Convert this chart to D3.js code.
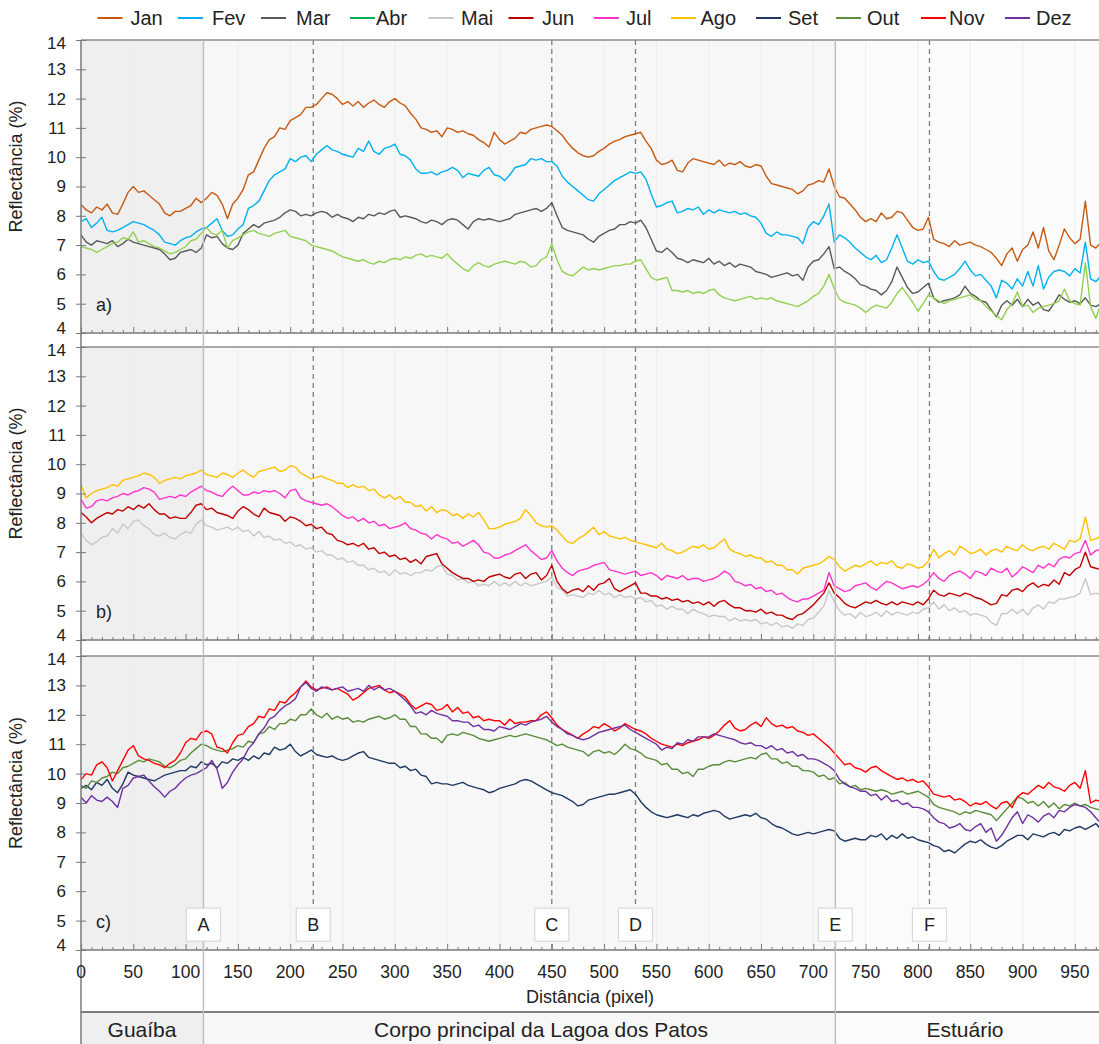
<!DOCTYPE html>
<html><head><meta charset="utf-8">
<script src="https://cdn.jsdelivr.net/npm/d3@7"></script>
<style>body{margin:0;background:#fff;} svg{display:block;font-family:Arial,"Liberation Sans",sans-serif;}</style>
</head><body><svg id="chart" width="1099" height="1044"></svg>
<script>
// ---------- DATA ----------
const monthLabels = ["Jan","Fev","Mar","Abr","Mai","Jun","Jul","Ago","Set","Out","Nov","Dez"];
const distStep = 5; // samples every 5 pixels of distance, from 0 to 975

const jan = [8.39,8.2,8.1,8.3,8.2,8.4,8.1,8.05,8.4,8.8,
9.0,8.8,8.85,8.7,8.55,8.4,8.1,8.0,8.15,8.15,
8.25,8.35,8.6,8.45,8.6,8.8,8.7,8.4,7.9,8.4,
8.6,8.9,9.4,9.5,9.9,10.3,10.6,10.7,11.0,10.95,
11.25,11.35,11.45,11.7,11.7,11.8,12.0,12.2,12.15,12.0,
11.8,11.9,11.75,11.9,11.7,11.85,11.95,11.8,11.7,11.9,
12.0,11.85,11.75,11.5,11.3,11.0,10.95,10.85,10.9,10.7,
11.0,10.95,10.85,10.9,10.8,10.75,10.6,10.5,10.35,10.85,
10.6,10.45,10.55,10.65,10.85,10.8,10.95,11.0,11.05,11.1,
11.05,10.9,10.75,10.5,10.3,10.15,10.05,10.0,10.05,10.2,
10.3,10.45,10.55,10.6,10.7,10.75,10.8,10.85,10.55,10.3,
9.9,9.75,9.8,9.9,9.55,9.5,9.8,9.95,9.9,9.85,
9.8,9.75,9.9,9.7,9.8,9.75,9.85,9.7,9.65,9.75,
9.7,9.35,9.1,9.05,9.0,8.95,8.9,8.75,8.85,9.05,
9.1,9.2,9.15,9.6,9.0,8.65,8.6,8.4,8.2,7.95,
7.8,7.9,7.8,8.1,7.9,7.95,8.15,8.1,7.85,7.6,
7.5,7.55,7.95,7.2,7.1,7.05,6.95,7.15,7.0,7.05,
7.1,7.0,6.95,6.85,6.75,6.55,6.3,6.7,6.9,6.45,
6.85,7.0,7.45,6.9,7.6,6.8,6.5,7.0,7.55,7.25,
7.05,7.2,8.5,7.0,6.9,7.1];

const fev = [7.8,7.9,7.6,7.75,7.95,7.5,7.45,7.5,7.6,7.7,
7.8,7.75,7.7,7.6,7.5,7.35,7.1,7.05,7.0,7.15,
7.25,7.3,7.45,7.55,7.6,7.75,7.9,7.5,7.3,7.35,
7.55,7.7,8.25,8.35,8.5,8.85,9.2,9.4,9.5,9.6,
9.95,9.85,10.0,10.05,9.85,10.1,10.25,10.4,10.25,10.2,
10.1,10.05,10.0,10.3,10.2,10.55,10.2,10.1,10.3,10.35,
10.45,10.1,10.05,9.9,9.6,9.45,9.45,9.5,9.4,9.5,
9.55,9.65,9.55,9.3,9.45,9.4,9.35,9.55,9.65,9.4,
9.35,9.2,9.4,9.65,9.7,9.75,9.95,9.9,9.95,9.85,
9.85,9.7,9.35,9.15,9.0,8.85,8.7,8.55,8.5,8.75,
8.9,9.05,9.2,9.3,9.4,9.5,9.45,9.5,9.25,8.75,
8.3,8.35,8.45,8.5,8.1,8.15,8.25,8.2,8.3,8.05,
8.2,8.1,8.2,8.15,8.1,8.15,8.05,8.1,8.0,7.95,
7.75,7.4,7.3,7.45,7.35,7.35,7.3,7.25,7.05,7.6,
7.8,7.7,8.0,8.4,7.1,7.35,7.25,7.1,6.9,6.75,
6.6,6.5,6.65,6.4,6.5,6.9,7.35,6.9,6.45,6.35,
6.5,6.4,6.45,6.1,5.85,5.8,5.9,6.0,6.2,6.45,
6.15,5.95,6.0,5.8,5.6,5.2,5.8,5.7,5.5,5.85,
5.6,6.1,5.6,6.3,5.5,5.9,6.1,6.15,6.1,5.95,
6.2,6.05,7.1,5.85,5.75,5.95];

const mar = [7.35,7.1,7.0,7.15,7.1,7.05,7.15,6.95,7.05,7.2,
7.1,7.05,7.0,6.95,6.9,6.85,6.7,6.5,6.55,6.75,
6.8,6.85,6.75,6.9,7.35,7.25,7.3,7.05,6.9,6.85,
7.0,7.4,7.55,7.7,7.6,7.75,7.8,7.85,7.95,8.1,
8.2,8.15,8.0,8.05,8.0,8.1,8.15,8.1,7.95,8.05,
7.95,7.9,7.8,7.95,7.9,8.05,8.0,8.1,8.05,8.15,
8.2,7.95,8.0,7.95,7.9,7.8,7.75,7.85,7.8,7.7,
7.85,7.9,7.85,7.7,7.55,7.8,7.9,7.85,7.9,7.85,
7.8,7.85,7.9,8.05,8.1,8.15,8.2,8.25,8.15,8.25,
8.45,8.0,7.6,7.5,7.45,7.4,7.35,7.2,7.1,7.3,
7.4,7.5,7.55,7.7,7.7,7.8,7.75,7.85,7.6,7.2,
6.8,6.75,6.9,6.75,6.55,6.5,6.4,6.5,6.45,6.4,
6.55,6.35,6.45,6.3,6.4,6.25,6.35,6.3,6.25,6.1,
6.05,6.0,5.9,5.95,6.0,6.05,5.95,6.0,5.8,6.25,
6.45,6.5,6.7,6.95,6.2,6.25,6.1,6.0,5.85,5.65,
5.6,5.5,5.45,5.3,5.45,5.75,6.25,5.9,5.55,5.35,
5.4,5.55,5.7,5.2,5.05,5.1,5.15,5.2,5.3,5.6,
5.35,5.25,5.1,5.05,4.8,4.55,4.95,5.1,4.95,5.15,
4.9,5.15,4.95,5.05,4.8,4.75,5.0,5.3,5.15,5.05,
5.1,5.0,5.2,4.95,4.9,5.0];

const abr = [6.95,6.9,6.85,6.75,6.85,6.95,7.05,7.1,7.25,7.2,
7.45,7.1,7.15,7.05,6.95,6.9,6.8,6.7,6.75,6.85,
6.95,7.15,7.2,7.4,7.6,7.4,7.35,7.5,6.9,7.15,
7.25,7.35,7.45,7.5,7.4,7.35,7.3,7.4,7.45,7.5,
7.3,7.25,7.2,7.15,7.0,6.95,6.9,6.85,6.8,6.7,
6.6,6.55,6.5,6.45,6.5,6.4,6.35,6.45,6.4,6.5,
6.55,6.5,6.6,6.55,6.65,6.7,6.6,6.65,6.6,6.55,
6.7,6.5,6.35,6.2,6.1,6.3,6.4,6.3,6.25,6.35,
6.4,6.45,6.4,6.35,6.45,6.4,6.25,6.3,6.5,6.6,
7.05,6.5,6.1,6.0,5.95,6.1,6.25,6.15,6.2,6.15,
6.2,6.25,6.3,6.3,6.35,6.35,6.45,6.5,6.2,5.9,
5.8,5.85,5.9,5.45,5.45,5.4,5.45,5.35,5.4,5.35,
5.45,5.5,5.3,5.2,5.15,5.1,5.15,5.2,5.25,5.15,
5.2,5.15,5.2,5.1,5.05,5.0,4.95,4.9,5.0,5.1,
5.25,5.35,5.6,6.0,5.5,5.15,5.05,5.0,4.95,4.85,
4.7,4.85,4.95,4.9,4.85,5.05,5.35,5.55,5.3,5.05,
4.75,5.0,5.3,5.2,5.1,5.0,5.1,5.15,5.2,5.25,
5.3,5.15,5.1,4.9,4.75,4.6,4.45,4.8,5.0,5.4,
4.9,4.95,4.7,4.85,4.9,4.95,5.0,5.1,5.5,5.1,
5.0,4.95,6.4,4.9,4.5,5.0];

const mai = [7.65,7.4,7.25,7.35,7.5,7.55,7.8,7.65,7.95,7.8,
8.05,8.1,7.9,7.8,7.6,7.55,7.65,7.5,7.45,7.6,
7.7,7.65,7.95,8.1,7.9,7.85,7.75,7.8,7.85,7.75,
7.85,7.7,7.75,7.55,7.7,7.5,7.55,7.4,7.45,7.3,
7.35,7.2,7.25,7.1,7.15,7.0,7.05,6.9,6.9,6.75,
6.8,6.65,6.7,6.55,6.55,6.4,6.45,6.3,6.35,6.2,
6.4,6.25,6.3,6.2,6.3,6.3,6.4,6.35,6.5,6.55,
6.25,6.2,6.05,6.1,5.95,6.0,5.85,5.9,5.85,6.0,
5.85,5.95,5.85,6.0,5.85,5.95,5.85,5.9,5.95,6.0,
6.15,5.8,5.7,5.5,5.55,5.5,5.45,5.6,5.55,5.7,
5.55,5.6,5.45,5.55,5.45,5.5,5.4,5.45,5.3,5.35,
5.15,5.2,5.05,5.15,5.05,5.05,4.9,5.05,4.95,4.9,
4.8,4.85,4.8,4.8,4.65,4.75,4.65,4.7,4.65,4.7,
4.55,4.6,4.5,4.6,4.45,4.5,4.4,4.55,4.5,4.7,
4.75,4.95,5.15,5.7,5.3,5.0,4.85,4.9,4.75,4.95,
4.8,4.85,4.95,4.8,5.0,4.85,4.95,4.9,4.85,4.95,
4.9,5.05,5.1,5.3,5.05,5.2,5.0,5.1,4.95,5.0,
4.85,4.9,4.85,4.8,4.6,4.5,4.9,4.9,5.05,4.9,
5.05,4.85,5.1,5.2,5.05,5.3,5.25,5.4,5.4,5.45,
5.5,5.6,6.1,5.55,5.6,5.55];

const jun = [8.35,8.2,8.0,8.15,8.25,8.35,8.3,8.45,8.4,8.55,
8.45,8.6,8.5,8.65,8.45,8.3,8.3,8.15,8.2,8.15,
8.15,8.35,8.6,8.65,8.45,8.5,8.35,8.3,8.25,8.15,
8.4,8.55,8.45,8.3,8.2,8.5,8.35,8.3,8.25,8.05,
8.2,8.15,8.05,7.9,7.95,7.8,7.85,7.65,7.6,7.4,
7.35,7.25,7.3,7.2,7.3,7.1,7.15,6.95,7.0,6.85,
6.9,6.75,6.8,6.65,6.75,6.6,6.85,6.9,6.95,6.6,
6.45,6.3,6.2,6.1,6.1,6.0,6.05,6.0,6.15,6.2,
6.25,6.15,6.1,6.25,6.3,6.1,6.25,6.3,6.05,6.2,
6.55,6.0,5.75,5.6,5.7,5.75,5.65,5.85,5.7,5.9,
5.95,6.1,5.75,5.65,5.75,5.85,5.95,5.6,5.6,5.5,
5.5,5.4,5.45,5.35,5.4,5.3,5.35,5.25,5.3,5.2,
5.3,5.15,5.3,5.35,5.2,5.1,5.1,5.0,5.0,4.95,
5.05,4.9,4.95,4.85,4.85,4.75,4.7,4.85,4.9,5.05,
5.2,5.4,5.6,5.95,5.6,5.45,5.25,5.15,5.1,5.2,
5.3,5.25,5.35,5.25,5.2,5.3,5.2,5.3,5.25,5.2,
5.3,5.2,5.4,5.7,5.55,5.5,5.6,5.55,5.5,5.6,
5.55,5.45,5.4,5.3,5.2,5.25,5.55,5.5,5.7,5.75,
5.65,5.85,5.95,5.8,5.9,5.85,6.05,5.9,6.3,6.2,
6.4,6.5,7.0,6.5,6.45,6.4];

const jul = [8.8,8.5,8.55,8.75,8.8,8.75,8.85,8.9,9.0,8.95,
9.05,9.1,9.2,9.15,9.05,8.8,8.85,8.9,8.85,8.95,
8.9,9.05,9.15,9.25,9.1,9.05,8.95,8.9,9.1,9.25,
9.1,8.95,8.95,9.05,9.0,9.1,9.05,9.1,9.0,8.85,
9.1,9.15,8.85,8.75,8.7,8.65,8.6,8.65,8.55,8.4,
8.25,8.15,8.2,8.05,8.15,8.0,8.05,7.9,7.95,7.8,
7.85,7.9,8.0,7.8,7.75,7.65,7.6,7.45,7.6,7.5,
7.45,7.3,7.35,7.2,7.3,7.4,7.25,7.0,6.95,6.8,
6.8,6.9,6.95,7.05,7.15,7.25,7.05,6.9,6.75,6.8,
7.05,6.7,6.45,6.3,6.2,6.35,6.4,6.45,6.55,6.6,
6.65,6.4,6.35,6.3,6.25,6.3,6.35,6.2,6.25,6.3,
6.2,6.05,6.2,6.15,6.1,6.2,6.05,6.1,6.1,6.0,
6.05,6.1,6.2,6.35,6.25,6.0,5.95,5.85,5.9,5.75,
5.8,5.65,5.7,5.55,5.6,5.45,5.35,5.3,5.4,5.4,
5.5,5.6,5.7,6.3,5.85,5.75,5.65,5.7,5.85,5.9,
5.95,5.8,5.7,5.85,6.0,5.95,5.85,5.75,5.8,5.85,
5.8,5.9,6.05,6.3,6.1,6.0,6.2,6.3,6.35,6.25,
6.1,6.35,6.3,6.2,6.45,6.35,6.3,6.45,6.15,6.3,
6.5,6.4,6.3,6.55,6.45,6.6,6.5,6.75,6.85,6.8,
6.95,7.0,7.4,6.9,7.05,7.1];

const ago = [9.3,8.85,9.0,9.1,9.15,9.2,9.3,9.25,9.45,9.5,
9.55,9.6,9.7,9.65,9.55,9.35,9.45,9.5,9.55,9.5,
9.6,9.65,9.7,9.8,9.65,9.6,9.55,9.7,9.65,9.55,
9.7,9.8,9.65,9.55,9.75,9.8,9.85,9.9,9.75,9.8,
9.95,9.9,9.7,9.6,9.5,9.55,9.6,9.5,9.45,9.35,
9.35,9.2,9.3,9.2,9.25,9.1,9.15,8.95,8.85,8.95,
8.8,8.9,8.7,8.7,8.55,8.6,8.4,8.55,8.35,8.45,
8.4,8.25,8.3,8.15,8.3,8.2,8.35,8.1,7.8,7.8,
7.85,7.95,8.0,8.05,8.15,8.45,8.25,8.0,7.9,7.85,
7.9,7.75,7.55,7.35,7.3,7.45,7.55,7.7,7.85,7.6,
7.7,7.55,7.5,7.45,7.5,7.4,7.35,7.3,7.25,7.2,
7.15,7.3,7.1,7.05,6.95,7.0,7.1,7.2,7.15,7.25,
7.1,7.15,7.3,7.45,7.1,7.0,6.95,6.85,6.9,6.8,
6.8,6.65,6.7,6.55,6.55,6.4,6.4,6.25,6.45,6.5,
6.55,6.6,6.7,6.85,6.75,6.5,6.35,6.45,6.55,6.5,
6.6,6.7,6.55,6.65,6.6,6.7,6.5,6.45,6.6,6.55,
6.45,6.5,6.7,7.1,6.8,6.95,7.05,6.9,7.2,7.1,
6.95,7.0,7.1,6.9,7.05,7.1,7.0,7.2,7.1,7.05,
7.25,7.1,7.05,7.15,7.2,7.1,7.3,7.2,7.1,7.4,
7.35,7.45,8.2,7.4,7.45,7.55];

const set = [9.5,9.6,9.45,9.7,9.6,9.8,9.5,9.35,9.65,10.05,
9.95,9.9,9.85,9.8,9.75,9.85,9.95,10.0,10.05,10.1,
10.1,10.25,10.2,10.4,10.3,10.35,10.2,10.4,10.35,10.5,
10.45,10.55,10.45,10.6,10.5,10.7,10.65,10.9,10.8,10.85,
11.0,10.75,10.6,10.7,10.8,10.65,10.6,10.55,10.6,10.5,
10.45,10.5,10.6,10.7,10.75,10.55,10.5,10.45,10.4,10.35,
10.35,10.2,10.25,10.1,10.15,9.95,9.9,9.65,9.7,9.65,
9.65,9.6,9.65,9.7,9.6,9.55,9.5,9.45,9.35,9.4,
9.5,9.55,9.6,9.65,9.75,9.8,9.75,9.65,9.55,9.45,
9.35,9.3,9.25,9.15,9.05,8.9,8.95,9.1,9.15,9.2,
9.25,9.3,9.3,9.35,9.4,9.45,9.3,9.05,8.85,8.7,
8.6,8.55,8.5,8.55,8.6,8.55,8.5,8.6,8.55,8.65,
8.7,8.75,8.7,8.55,8.45,8.5,8.55,8.6,8.55,8.65,
8.5,8.45,8.3,8.2,8.15,8.05,7.95,7.9,7.95,8.0,
7.95,8.0,8.05,8.1,8.05,7.8,7.7,7.75,7.8,7.75,
7.75,7.9,7.85,7.95,7.75,7.9,7.8,7.95,7.8,7.85,
7.75,7.7,7.65,7.55,7.5,7.35,7.4,7.3,7.45,7.6,
7.7,7.65,7.75,7.6,7.5,7.45,7.55,7.7,7.8,7.9,
7.9,7.75,7.95,7.9,7.85,7.95,8.0,7.9,8.1,8.05,
8.15,8.2,8.1,8.2,8.3,8.1];

const out = [9.6,9.5,9.75,9.7,9.85,9.9,10.05,10.0,10.2,10.25,
10.35,10.45,10.4,10.5,10.45,10.4,10.25,10.2,10.3,10.45,
10.5,10.7,10.85,11.0,10.95,10.85,10.8,10.75,10.8,10.85,
10.95,10.9,11.1,11.05,11.35,11.4,11.6,11.5,11.7,11.7,
11.85,11.8,12.0,12.0,12.2,12.0,11.9,12.05,11.85,11.95,
11.85,11.9,11.75,11.8,11.75,11.85,11.9,11.95,11.85,11.9,
12.0,11.85,11.85,11.6,11.6,11.35,11.35,11.2,11.2,11.05,
11.3,11.35,11.3,11.4,11.35,11.3,11.2,11.15,11.1,11.15,
11.2,11.25,11.3,11.25,11.3,11.35,11.3,11.25,11.2,11.15,
11.05,10.95,11.0,10.9,10.85,10.8,10.75,10.6,10.75,10.8,
10.7,10.75,10.65,10.8,11.0,10.85,10.8,10.7,10.55,10.5,
10.45,10.3,10.35,10.15,10.15,10.0,10.05,9.9,10.15,10.15,
10.25,10.3,10.3,10.4,10.45,10.4,10.45,10.5,10.55,10.5,
10.65,10.7,10.5,10.5,10.35,10.4,10.25,10.25,10.1,10.1,
10.05,9.9,9.95,9.8,9.85,9.65,9.7,9.55,9.6,9.45,
9.5,9.45,9.4,9.45,9.4,9.3,9.35,9.4,9.3,9.35,
9.4,9.3,9.2,8.95,8.85,8.8,8.75,8.7,8.6,8.7,
8.65,8.75,8.7,8.65,8.6,8.4,8.6,8.8,9.0,9.2,
9.15,9.0,9.05,8.9,9.05,8.85,9.0,8.8,8.95,8.9,
9.0,8.9,8.95,8.85,8.8,8.75];

const nov = [9.8,10.0,9.95,10.3,10.4,10.2,9.75,10.1,10.45,10.8,
10.95,10.6,10.5,10.45,10.35,10.3,10.2,10.35,10.45,10.7,
11.05,11.2,11.15,11.4,11.45,11.35,10.9,10.85,10.7,11.05,
11.3,11.35,11.6,11.7,11.95,11.9,12.2,12.15,12.45,12.4,
12.6,12.75,12.95,13.15,12.95,12.85,12.9,12.95,12.85,12.9,
12.8,12.7,12.5,12.6,12.75,12.9,12.95,13.0,12.85,12.75,
12.8,12.7,12.6,12.35,12.2,12.3,12.4,12.35,12.15,12.2,
12.35,12.1,12.25,12.05,12.1,11.9,11.95,11.8,11.85,11.8,
11.8,11.65,11.85,11.7,11.75,11.75,11.8,11.8,12.0,12.1,
11.9,11.65,11.5,11.4,11.3,11.2,11.35,11.45,11.6,11.55,
11.7,11.6,11.45,11.55,11.7,11.6,11.5,11.45,11.35,11.2,
11.1,11.0,10.95,10.9,11.0,10.95,11.05,11.1,11.15,11.25,
11.2,11.3,11.45,11.65,11.8,11.55,11.45,11.5,11.65,11.75,
11.6,11.9,11.7,11.6,11.65,11.55,11.6,11.45,11.4,11.3,
11.35,11.2,11.05,10.9,10.7,10.5,10.3,10.35,10.2,10.15,
10.05,10.2,10.25,10.1,10.0,9.9,9.8,9.85,9.75,9.8,
9.7,9.75,9.55,9.3,9.25,9.2,9.25,9.1,9.15,9.05,
8.9,9.0,8.95,9.05,8.9,8.8,9.0,9.05,8.85,9.2,
9.35,9.3,9.45,9.6,9.5,9.7,9.55,9.5,9.4,9.6,
9.7,9.5,10.1,9.0,9.1,9.05];

const dez = [9.2,9.0,9.25,9.1,9.05,9.2,9.05,8.85,9.5,9.6,
9.85,9.9,9.95,9.75,9.55,9.4,9.2,9.4,9.5,9.7,
9.85,9.95,10.0,10.1,10.2,10.45,10.15,9.5,9.7,10.05,
10.3,10.5,10.85,11.05,11.35,11.55,11.85,11.95,12.15,12.3,
12.4,12.55,12.95,13.1,12.9,12.8,12.95,12.9,12.85,12.9,
12.95,12.8,12.85,12.9,12.8,13.0,12.85,12.95,12.85,12.9,
12.8,12.65,12.5,12.3,12.05,12.1,12.0,12.15,12.05,12.0,
11.95,11.8,11.8,11.75,11.75,11.6,11.65,11.5,11.5,11.45,
11.6,11.55,11.5,11.6,11.7,11.65,11.75,11.8,11.85,11.95,
11.75,11.6,11.5,11.35,11.3,11.2,11.15,11.2,11.3,11.4,
11.45,11.5,11.55,11.6,11.65,11.5,11.4,11.3,11.2,11.1,
11.0,10.8,10.9,10.85,11.05,11.0,11.15,11.1,11.25,11.25,
11.25,11.35,11.3,11.25,11.2,11.15,11.05,11.0,11.05,10.95,
10.95,10.85,10.95,10.8,10.85,10.7,10.75,10.6,10.65,10.5,
10.5,10.45,10.35,10.25,10.1,9.8,9.65,9.55,9.5,9.4,
9.4,9.25,9.3,9.1,9.25,9.05,9.1,8.95,9.0,8.85,
8.85,8.8,8.7,8.5,8.35,8.3,8.15,8.2,8.3,8.1,
8.05,8.2,8.3,8.0,8.15,7.7,7.9,8.2,8.5,8.7,
8.3,8.6,8.5,8.35,8.55,8.65,8.5,8.75,8.7,8.85,
8.95,8.9,8.85,8.7,8.5,8.3];

const xTickValues = [0,50,100,150,200,250,300,350,400,450,500,550,600,650,700,750,800,850,900,950];
const yTickValues = [4,5,6,7,8,9,10,11,12,13,14];
const markerNames = ["A","B","C","D","E","F"];
const markerDist  = [117,222,450,530,721,811];
const regionNames = ["Guaíba","Corpo principal da Lagoa dos Patos","Estuário"];
const regionBounds = [0,117,721,975];
const panelTags = ["a)","b)","c)"];

// ---------- STYLE / LAYOUT ----------
const lineColors   = ["#c55a11","#00b0f0","#595959","#92d050","#c8c8c8","#c00000","#ff33cc","#ffc000","#203864","#5b8c3a","#ff0000","#7030a0"];
const legendColors = ["#c55a11","#00b0f0","#595959","#00b050","#c8c8c8","#c00000","#ff33cc","#ffc000","#203864","#5b8c3a","#ff0000","#7030a0"];
const legendLineX  = [97.5,178,261,350,428.5,508.5,594,671,756,836,921,1005];
const legendTextX  = [130.5,212,296,376,461,542,626,700.5,788,867,949,1036];
const regionFill = ["#efefef","#f7f7f7","#fbfbfb"];
const regionLabelX = [142,541,965];
const seriesByPanel = [[jan,fev,mar,abr],[mai,jun,jul,ago],[set,out,nov,dez]];
const seriesIdx = [[0,1,2,3],[4,5,6,7],[8,9,10,11]];
const panels = [{top:40,bottom:333},{top:347,bottom:640},{top:656,bottom:950}];

const W = 1099, H = 1044;
const FONT = "Arial, 'Liberation Sans', sans-serif";
const svg = d3.select("#chart");
const x = d3.scaleLinear().domain([0,974]).range([81,1100]);
const axisColor = "#7a7a7a";
const boxVal = 4.86;

svg.append("defs").append("clipPath").attr("id","plotclip")
  .append("rect").attr("x",81).attr("y",0).attr("width",W-81).attr("height",H);

function drawBox(g, y, mi){
  const m = markerDist[mi];
  g.append("rect").attr("x",x(m)-17).attr("y",y(boxVal)-16.5).attr("width",34).attr("height",33)
    .attr("fill","#fff").attr("stroke","#d9d9d9").attr("stroke-width",1.2);
  g.append("text").attr("x",x(m)).attr("y",y(boxVal)).attr("dy","0.36em")
    .attr("text-anchor","middle").attr("font-size",18).attr("fill","#222").text(markerNames[mi]);
}

panels.forEach((p,pi)=>{
  const y = d3.scaleLinear().domain([4,14]).range([p.bottom,p.top]);
  const g = svg.append("g");
  for(let r=0;r<3;r++){
    g.append("rect").attr("x",x(regionBounds[r])).attr("y",p.top)
      .attr("width",x(regionBounds[r+1])-x(regionBounds[r])).attr("height",p.bottom-p.top)
      .attr("fill",regionFill[r]);
  }
  xTickValues.filter(t=>t>0).forEach(t=>{
    g.append("line").attr("x1",x(t)).attr("x2",x(t)).attr("y1",p.top).attr("y2",p.bottom)
      .attr("stroke","#ececec").attr("stroke-width",1);
  });
  markerDist.forEach((m,mi)=>{
    if(mi===0||mi===4) return;
    g.append("line").attr("x1",x(m)).attr("x2",x(m)).attr("y1",p.top).attr("y2",p.bottom)
      .attr("stroke","#7f7f7f").attr("stroke-width",1.3).attr("stroke-dasharray","5,4");
  });
  g.append("text").attr("x",96).attr("y",y(4.95)).attr("dy","0.35em")
    .attr("font-size",18).attr("fill","#222").text(panelTags[pi]);
  if(pi===2){
    markerDist.forEach((m,mi)=>{ if(mi!==0 && mi!==4) drawBox(g,y,mi); });
  }
  const line = d3.line().x((d,i)=>x(i*distStep)).y(d=>y(d));
  const lg = g.append("g").attr("clip-path","url(#plotclip)");
  seriesByPanel[pi].forEach((s,si)=>{
    lg.append("path").datum(s).attr("d",line).attr("fill","none")
      .attr("stroke",lineColors[seriesIdx[pi][si]]).attr("stroke-width",1.4)
      .attr("stroke-linejoin","round");
  });
  g.append("line").attr("x1",81).attr("x2",W).attr("y1",p.top).attr("y2",p.top)
    .attr("stroke","#8c8c8c").attr("stroke-width",1.5);
  const xAxis = d3.axisBottom(x).tickValues(d3.range(0,975,10)).tickSize(-3).tickFormat("");
  const ax = g.append("g").attr("transform",`translate(0,${p.bottom})`).call(xAxis);
  ax.select(".domain").remove();
  ax.selectAll(".tick line").attr("stroke",axisColor).attr("y2",d=> d%50===0 ? -6 : -3);
  g.append("line").attr("x1",81).attr("x2",W).attr("y1",p.bottom).attr("y2",p.bottom)
    .attr("stroke",axisColor).attr("stroke-width",1.5);
  const yAxis = d3.axisLeft(y).tickValues(yTickValues).tickSize(5).tickPadding(6);
  const ay = g.append("g").attr("transform","translate(81,0)").call(yAxis);
  ay.select(".domain").remove();
  ay.selectAll(".tick line").attr("stroke",axisColor).attr("x2",-5).attr("x1",5);
  ay.selectAll(".tick text").attr("font-size",17).attr("fill","#222")
    .attr("font-family",FONT).attr("x",-15)
    .attr("dy", d => d===4 ? "0.05em" : (d===14 ? "0.5em" : "0.32em"));
  g.append("text").attr("transform",`translate(22,${(p.top+p.bottom)/2-20}) rotate(-90)`)
    .attr("text-anchor","middle").attr("font-size",18).attr("fill","#222").text("Reflectância (%)");
});

const bandTop = 1012;
for(let r=0;r<3;r++){
  svg.append("rect").attr("x",x(regionBounds[r])).attr("y",bandTop)
    .attr("width",x(regionBounds[r+1])-x(regionBounds[r])).attr("height",H-bandTop)
    .attr("fill",regionFill[r]);
  svg.append("text").attr("x",regionLabelX[r]).attr("y",1030).attr("dy","0.35em").attr("text-anchor","middle")
    .attr("font-size",21).attr("fill","#222").text(regionNames[r]);
}
svg.append("line").attr("x1",81).attr("x2",W).attr("y1",bandTop).attr("y2",bandTop)
  .attr("stroke","#555").attr("stroke-width",1.5);

[0,4].forEach(mi=>{
  svg.append("line").attr("x1",x(markerDist[mi])).attr("x2",x(markerDist[mi]))
    .attr("y1",panels[0].top).attr("y2",H).attr("stroke","#bfbfbf").attr("stroke-width",1.5);
});
(function(){
  const p = panels[2];
  const y = d3.scaleLinear().domain([4,14]).range([p.bottom,p.top]);
  [0,4].forEach(mi=> drawBox(svg,y,mi));
})();

svg.append("line").attr("x1",81).attr("x2",81).attr("y1",panels[0].top).attr("y2",H)
  .attr("stroke",axisColor).attr("stroke-width",1.5);

xTickValues.forEach(t=>{
  svg.append("text").attr("x",x(t)).attr("y",972).attr("dy","0.35em").attr("text-anchor","middle")
    .attr("font-size",17.5).attr("fill","#222").text(t);
});
svg.append("text").attr("x",590).attr("y",997).attr("dy","0.35em").attr("text-anchor","middle")
  .attr("font-size",18).attr("fill","#222").text("Distância (pixel)");

monthLabels.forEach((m,i)=>{
  svg.append("line").attr("x1",legendLineX[i]).attr("x2",legendLineX[i]+25).attr("y1",18).attr("y2",18)
    .attr("stroke",legendColors[i]).attr("stroke-width",2);
  svg.append("text").attr("x",legendTextX[i]).attr("y",18).attr("dy","0.35em")
    .attr("font-size",20).attr("fill","#222").text(m);
});
</script></body></html>
